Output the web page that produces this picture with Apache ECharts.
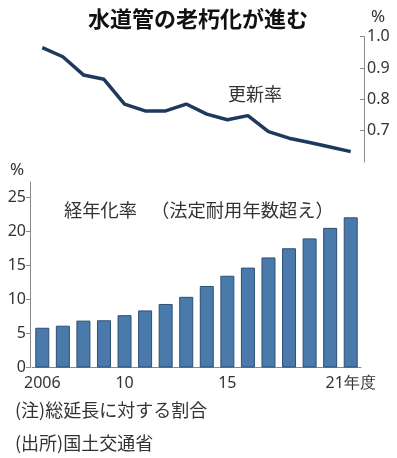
<!DOCTYPE html>
<html>
<head>
    <meta charset='utf-8'>
    <script src="https://cdn.jsdelivr.net/npm/echarts@6/dist/echarts.min.js"></script>
</head>
<body>
<style>
    html, body, #main {
        width: 100%;
        height: 100%;
        margin: 0;
        padding: 0;
        background: #fff;
    }
</style>
<div id="main"></div>
<script>
    // fiscal years 2006-2021
    var years = ['2006', '2007', '2008', '2009', '2010', '2011', '2012', '2013',
        '2014', '2015', '2016', '2017', '2018', '2019', '2020', '2021'];
    // renewal rate (%)
    var renewRate = [0.965, 0.936, 0.878, 0.864, 0.785, 0.763, 0.763, 0.785,
        0.753, 0.735, 0.748, 0.697, 0.676, 0.662, 0.648, 0.633];
    // aging rate (%), pipes past legal service life
    var agingRate = [5.85, 6.15, 6.9, 6.95, 7.7, 8.4, 9.35, 10.4,
        12.0, 13.5, 14.7, 16.2, 17.55, 19.0, 20.55, 22.1];
    var xTickIndex = [0, 4, 9, 15];
    var xTickText = ['2006', '10', '15', '21年度'];
    var lineTicks = [0.7, 0.8, 0.9, 1.0];
    var barTicks = [0, 5, 10, 15, 20, 25];

    var numFont = "'Noto Sans', sans-serif";
    var jpFont = "'Noto Sans CJK JP', sans-serif";

    var chart = echarts.init(document.getElementById('main'));

    var option = {
        animation: false,
        grid: [
            {left: 32, right: 36, top: 36.7, height: 125.3},
            {left: 32, right: 36, top: 182, bottom: 458 - 367.5}
        ],
        xAxis: [{
            gridIndex: 0,
            type: 'category',
            data: years,
            show: false
        }, {
            gridIndex: 1,
            type: 'category',
            data: years,
            axisLine: {lineStyle: {color: '#888', width: 1}},
            axisTick: {show: false},
            axisLabel: {
                interval: function (i) {
                    return xTickIndex.indexOf(i) >= 0;
                },
                formatter: function (v, i) {
                    var k = xTickIndex.indexOf(i);
                    return k >= 0 ? xTickText[k] : '';
                },
                color: '#333',
                fontFamily: numFont,
                fontSize: 16,
                margin: 8
            }
        }],
        yAxis: [{
            gridIndex: 0,
            type: 'value',
            position: 'right',
            offset: 3,
            min: 0.6,
            max: 1.0,
            interval: 0.1,
            splitLine: {show: false},
            axisLine: {show: true, lineStyle: {color: '#888', width: 1}},
            axisTick: {show: true, inside: true, length: 4, customValues: lineTicks, lineStyle: {color: '#888'}},
            axisLabel: {
                customValues: lineTicks,
                formatter: function (v) { return v.toFixed(1); },
                color: '#333',
                fontFamily: numFont,
                fontSize: 16,
                margin: 3
            }
        }, {
            gridIndex: 1,
            type: 'value',
            offset: 2,
            min: 0,
            max: 27.3,
            interval: 5,
            splitLine: {show: false},
            axisLine: {show: true, lineStyle: {color: '#888', width: 1}},
            axisTick: {show: true, length: 4, customValues: barTicks, lineStyle: {color: '#888'}},
            axisLabel: {
                customValues: barTicks,
                color: '#333',
                fontFamily: numFont,
                fontSize: 16,
                margin: 4
            }
        }],
        series: [{
            type: 'line',
            xAxisIndex: 0,
            yAxisIndex: 0,
            data: renewRate,
            symbol: 'none',
            lineStyle: {color: '#1d3a5e', width: 3.5}
        }, {
            type: 'bar',
            xAxisIndex: 1,
            yAxisIndex: 1,
            data: agingRate,
            barWidth: 14,
            itemStyle: {color: '#4a7aab', borderColor: '#2e4f72', borderWidth: 1}
        }],
        graphic: [
            {type: 'text', x: 198, y: 19, style: {text: '水道管の老朽化が進む', font: 'bold 22px ' + jpFont, fill: '#111', align: 'center', verticalAlign: 'middle'}},
            {type: 'text', x: 378, y: 17, style: {text: '%', font: '17px ' + numFont, fill: '#333', align: 'center', verticalAlign: 'middle'}},
            {type: 'text', x: 255, y: 94, style: {text: '更新率', font: '18px ' + jpFont, fill: '#333', align: 'center', verticalAlign: 'middle'}},
            {type: 'text', x: 17, y: 170, style: {text: '%', font: '17px ' + numFont, fill: '#333', align: 'center', verticalAlign: 'middle'}},
            {type: 'text', x: 64, y: 210, style: {text: '経年化率', font: '18.3px ' + jpFont, fill: '#333', align: 'left', verticalAlign: 'middle'}},
            {type: 'text', x: 151, y: 210, style: {text: '（法定耐用年数超え）', font: '18.3px ' + jpFont, fill: '#333', align: 'left', verticalAlign: 'middle'}},
            {type: 'text', x: 15, y: 410, style: {text: '(注)総延長に対する割合', font: '18px ' + jpFont, fill: '#333', align: 'left', verticalAlign: 'middle'}},
            {type: 'text', x: 15, y: 443, style: {text: '(出所)国土交通省', font: '18px ' + jpFont, fill: '#333', align: 'left', verticalAlign: 'middle'}}
        ]
    };

    chart.setOption(option);
</script>
</body>
</html>
